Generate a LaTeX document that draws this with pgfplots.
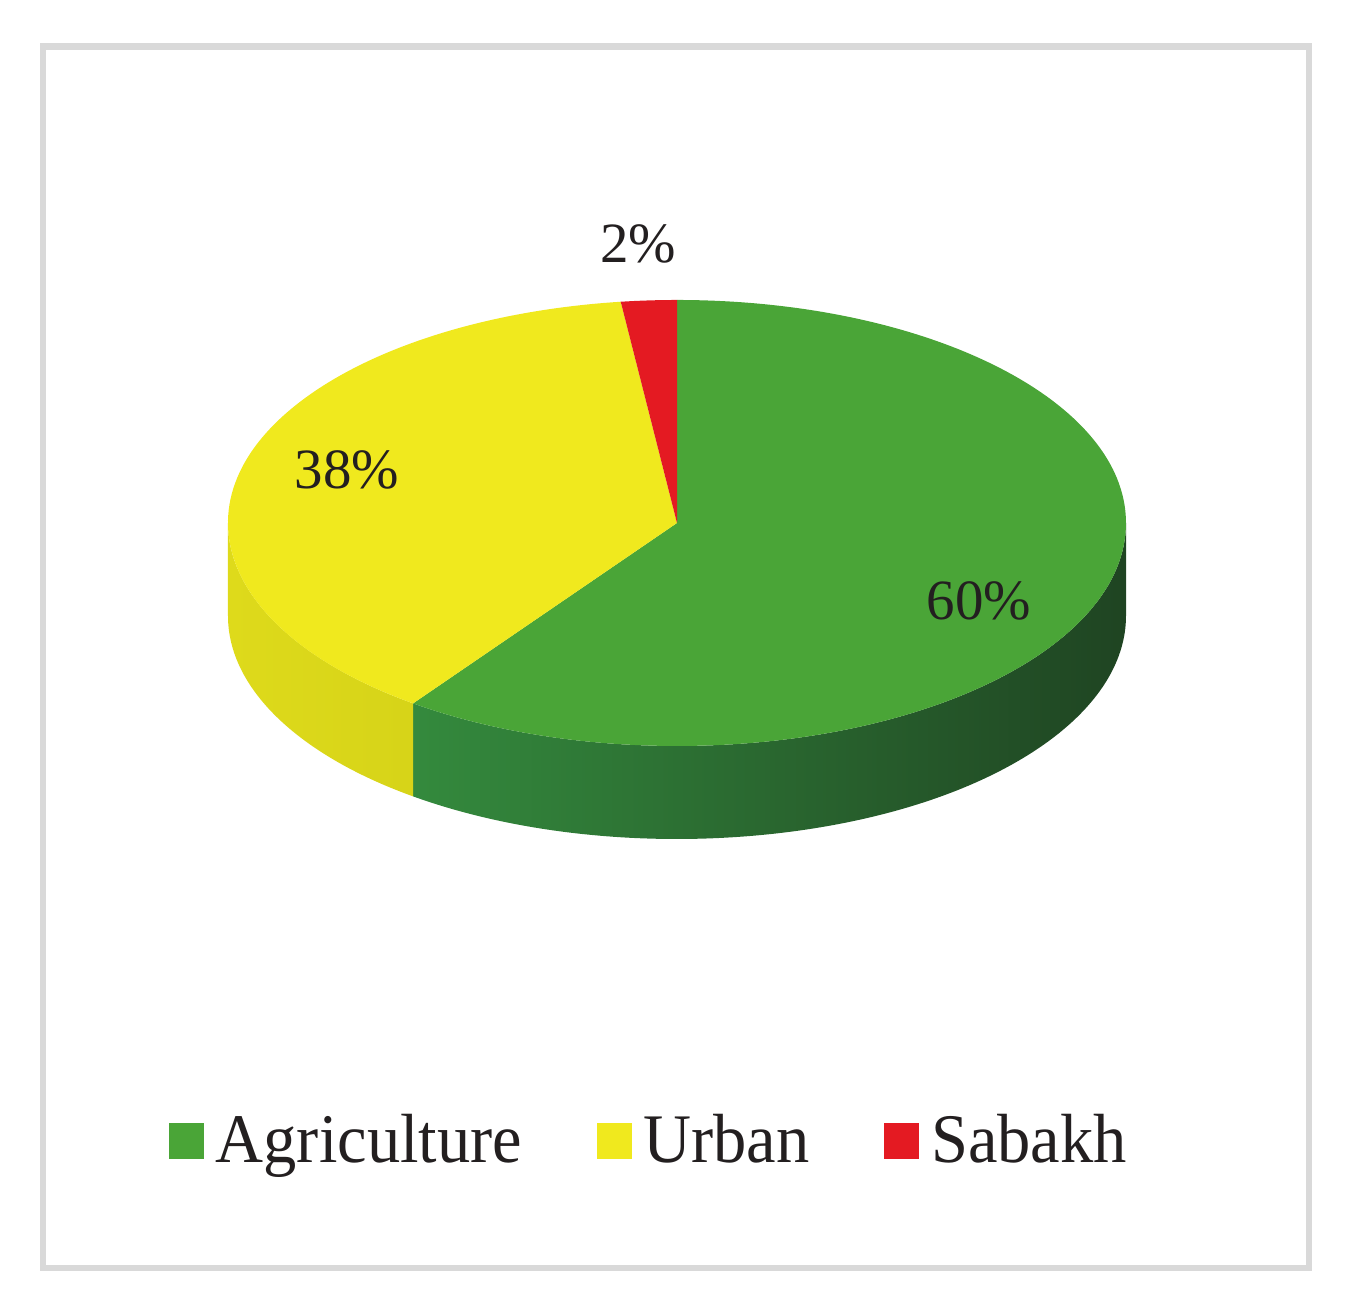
\documentclass[border=0pt]{standalone}
\usepackage{pgfplots}
\pgfplotsset{compat=1.18}
\usepackage{fontspec}
\setmainfont{Liberation Serif}
\newfontfamily\legfont[FakeStretch=0.955]{Liberation Serif}
\definecolor{agri}{HTML}{4AA537}
\definecolor{urban}{HTML}{F0E91E}
\definecolor{sabakh}{HTML}{E41A22}
\definecolor{agriL}{HTML}{348A3D}
\definecolor{agriD}{HTML}{1F4422}
\definecolor{urbL}{HTML}{DEDA1B}
\definecolor{urbD}{HTML}{CCCB14}
\definecolor{txt}{HTML}{231F20}
\definecolor{frame}{HTML}{D9D9D9}
\begin{document}
\begin{tikzpicture}
% shares in percent
\pgfmathsetmacro\vA{60}
\pgfmathsetmacro\vB{38}
\pgfmathsetmacro\vC{2}
\pgfmathsetmacro\aA{90}
\pgfmathsetmacro\aB{\aA-3.6*\vA}
\pgfmathsetmacro\aC{\aB-3.6*\vB}
\pgfmathsetmacro\aD{\aC-3.6*\vC}
\tikzset{ell/.style={x radius=4.49cm, y radius=2.23cm}}
\begin{axis}[
    scale only axis,
    width=13.61cm, height=12.94cm,
    xmin=0, xmax=1361, ymin=0, ymax=1294,
    hide axis, clip=false,
    legend columns=3,
    legend style={at={(axis cs:168,153)}, anchor=west, draw=none, fill=none,
        font=\legfont\fontsize{19.8}{22}\selectfont, text=txt, inner sep=0pt,
        /tikz/every odd column/.append style={column sep=0.05cm},
        /tikz/every even column/.append style={column sep=0.675cm}},
    legend image code/.code={\fill[#1, draw=none] (0cm,-0.18cm) rectangle (0.35cm,0.18cm);},
]
\path (axis cs:0,0) rectangle (axis cs:1361,1294);
\draw[frame, line width=0.065cm] (axis cs:43,26) rectangle (axis cs:1309,1247.5);
% side walls
\shade[left color=agriL, middle color=agriD, right color=agriD]
    (axis cs:677,771) ++(0:4.49cm and 2.23cm) arc[start angle=0, end angle=\aB, ell]
    -- ++(0,-0.93cm) arc[start angle=\aB, end angle=0, ell] -- cycle;
\shade[left color=urbL, right color=urbD]
    (axis cs:677,771) ++(\aB:4.49cm and 2.23cm) arc[start angle=\aB, end angle=-180, ell]
    -- ++(0,-0.93cm) arc[start angle=-180, end angle=\aB, ell] -- cycle;
% top faces
\fill[agri] (axis cs:677,771) -- ++(\aA:4.49cm and 2.23cm)
    arc[start angle=\aA, end angle=\aB, ell] -- cycle;
\fill[urban] (axis cs:677,771) -- ++(\aB:4.49cm and 2.23cm)
    arc[start angle=\aB, end angle=\aC, ell] -- cycle;
\fill[sabakh] (axis cs:677,771) -- ++(\aC:4.49cm and 2.23cm)
    arc[start angle=\aC, end angle=\aD, ell] -- cycle;
% labels
\node[text=txt, font=\fontsize{16.2}{18}\selectfont] at (axis cs:638,1050) {2\%};
\node[text=txt, font=\fontsize{16.2}{18}\selectfont] at (axis cs:347,824) {38\%};
\node[text=txt, font=\fontsize{16.2}{18}\selectfont] at (axis cs:979,693) {60\%};
\addlegendimage{fill=agri}
\addlegendentry{Agriculture}
\addlegendimage{fill=urban}
\addlegendentry{Urban}
\addlegendimage{fill=sabakh}
\addlegendentry{Sabakh}
\end{axis}
\end{tikzpicture}
\end{document}
